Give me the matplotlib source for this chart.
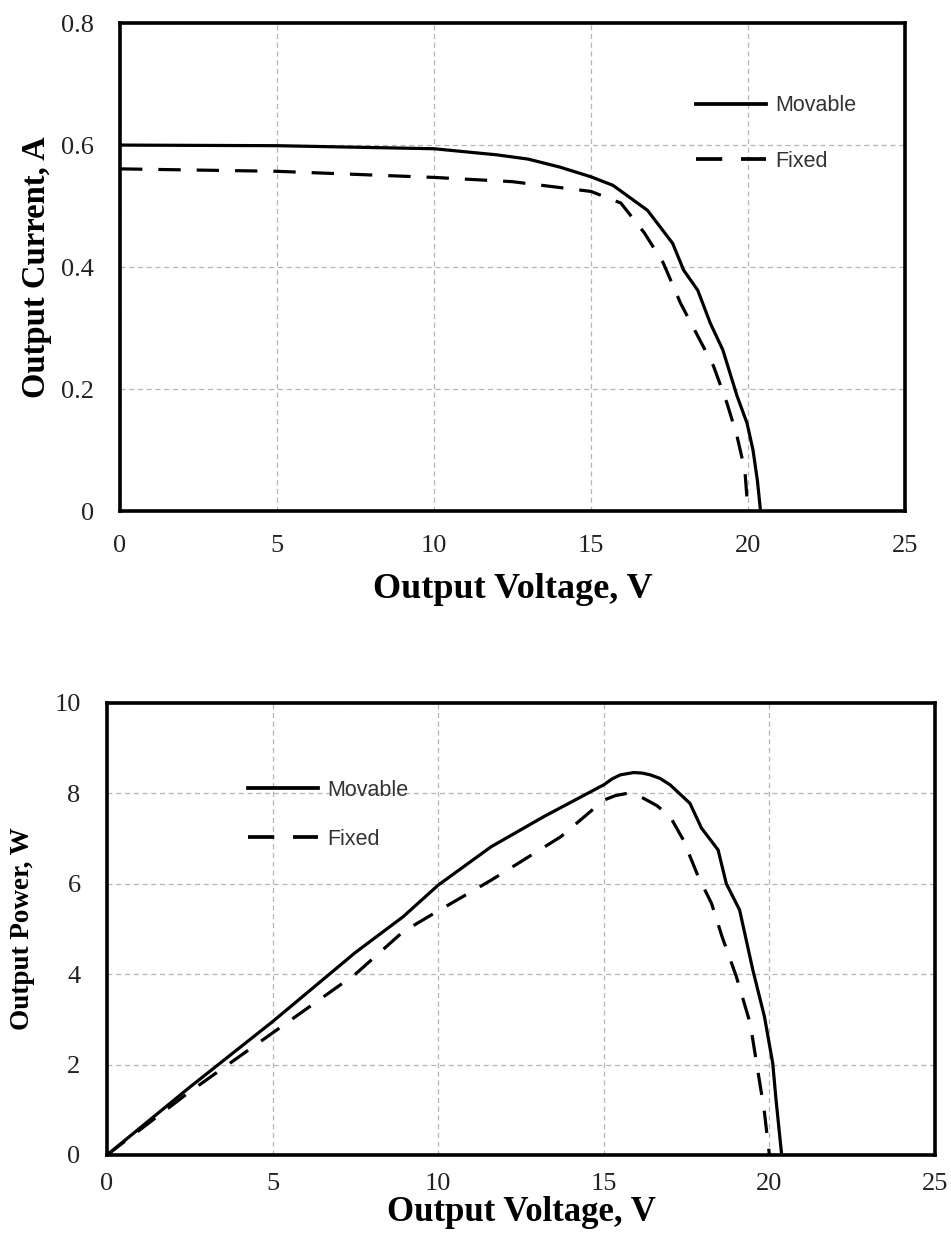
"""Solar panel I-V and P-V curves, movable vs fixed mount."""
import matplotlib
matplotlib.use("Agg")
import matplotlib.pyplot as plt
from matplotlib.lines import Line2D

SERIF = ["Liberation Serif", "DejaVu Serif"]
SANS = ["Liberation Sans", "DejaVu Sans"]

# I-V curves
iv_movable_v = [0, 5, 10, 12, 13, 14, 15, 15.7, 16.8, 17.6, 17.95, 18.4, 18.8, 19.2, 19.65, 19.97, 20.16, 20.3, 20.4]
iv_movable_i = [0.600, 0.599, 0.594, 0.584, 0.577, 0.564, 0.548, 0.534, 0.493, 0.439, 0.395, 0.362,
                0.308, 0.264, 0.189, 0.144, 0.100, 0.050, 0.0]
iv_fixed_v = [0, 5, 10, 12.5, 15, 15.95, 16.7, 17.3, 17.85, 18.4, 18.9, 19.33, 19.65, 19.9, 20.0]
iv_fixed_i = [0.561, 0.557, 0.547, 0.540, 0.524, 0.505, 0.456, 0.407, 0.341, 0.287, 0.238, 0.177,
              0.123, 0.067, 0.0]

# P-V curves
pv_movable_v = [0, 2.5, 5, 7.5, 8.94, 10, 11.6, 13.2, 15, 15.25, 15.5, 15.9, 16.15, 16.4, 16.7, 17.0,
                17.6, 17.95, 18.45, 18.7, 19.1, 19.5, 19.85, 20.1, 20.2, 20.37]
pv_movable_p = [0, 1.5, 2.95, 4.48, 5.27, 5.97, 6.82, 7.49, 8.19, 8.32, 8.41, 8.46, 8.45, 8.41, 8.33, 8.19,
                7.78, 7.23, 6.75, 6.0, 5.42, 4.09, 3.06, 2.03, 1.22, 0]
pv_fixed_v = [0, 2.5, 5, 7.5, 8.94, 10, 11.6, 13.7, 15, 15.35, 15.7, 15.95, 16.2, 16.6, 17.0, 17.4,
              17.85, 18.25, 18.57, 19.0, 19.42, 19.63, 19.84, 20.0]
pv_fixed_p = [0, 1.4, 2.7, 4.0, 4.94, 5.4, 6.08, 7.04, 7.85, 7.95, 8.0, 7.97, 7.89, 7.73, 7.49, 6.97,
              6.16, 5.57, 4.83, 3.95, 2.91, 1.95, 1.0, 0]

x_ticks = [0, 5, 10, 15, 20, 25]
i_ticks = [0, 0.2, 0.4, 0.6, 0.8]
i_labels = ["0", "0.2", "0.4", "0.6", "0.8"]
p_ticks = [0, 2, 4, 6, 8, 10]

LW = 2.3
DASH = (7, 5)

fig = plt.figure(figsize=(9.51, 12.35), dpi=100)
ax1 = fig.add_axes([0.1262, 0.5862, 0.8254, 0.3951])
ax2 = fig.add_axes([0.1125, 0.0648, 0.8707, 0.3660])


def style(ax, yticks, ylabels, xpad, ypad):
    ax.set_xlim(0, 25)
    ax.set_xticks(x_ticks)
    ax.set_xticklabels([str(t) for t in x_ticks])
    ax.set_yticks(yticks)
    ax.set_yticklabels(ylabels)
    ax.set_ylim(yticks[0], yticks[-1])
    ax.tick_params(length=0, labelsize=19)
    ax.tick_params(axis="x", pad=xpad)
    ax.tick_params(axis="y", pad=ypad)
    for lab in ax.get_xticklabels() + ax.get_yticklabels():
        lab.set_family(SERIF)
        lab.set_color("#222222")
    for sp in ax.spines.values():
        sp.set_linewidth(2.6)
        sp.set_color("black")
    ax.grid(True, color="#b5b5b5", linestyle=(0, (4, 3)), linewidth=0.9)
    ax.set_axisbelow(True)


def legend(ax, anchor, spacing):
    handles = [
        Line2D([], [], color="black", lw=LW + 0.4),
        Line2D([], [], color="black", lw=LW + 0.4, dashes=DASH),
    ]
    leg = ax.legend(handles, ["Movable", "Fixed"], loc="upper left", bbox_to_anchor=anchor,
                    frameon=False, borderpad=0, handlelength=3.25, handletextpad=0.45,
                    labelspacing=spacing, prop={"family": SANS, "size": 15.5})
    for t in leg.get_texts():
        t.set_color("#333333")


# top: current vs voltage
ax1.plot(iv_movable_v, iv_movable_i, color="black", lw=LW, solid_joinstyle="round")
ax1.plot(iv_fixed_v, iv_fixed_i, color="black", lw=LW, dashes=DASH)
style(ax1, i_ticks, i_labels, 17, 19)
ax1.set_xlabel("Output Voltage, V", family=SERIF, fontweight="bold", fontsize=26, labelpad=12)
ax1.set_ylabel("Output Current, A", family=SERIF, fontweight="bold", fontsize=23.5, labelpad=6)
legend(ax1, (0.72, 0.874), 1.6)

# bottom: power vs voltage
ax2.plot(pv_movable_v, pv_movable_p, color="black", lw=LW, solid_joinstyle="round")
ax2.plot(pv_fixed_v, pv_fixed_p, color="black", lw=LW, dashes=DASH)
style(ax2, p_ticks, [str(t) for t in p_ticks], 13, 19)
ax2.set_xlabel("Output Voltage, V", family=SERIF, fontweight="bold", fontsize=25, labelpad=1)
ax2.set_ylabel("Output Power, W", family=SERIF, fontweight="bold", fontsize=19.5, labelpad=14)
legend(ax2, (0.157, 0.854), 1.3)

fig.savefig("out.png", dpi=100)
